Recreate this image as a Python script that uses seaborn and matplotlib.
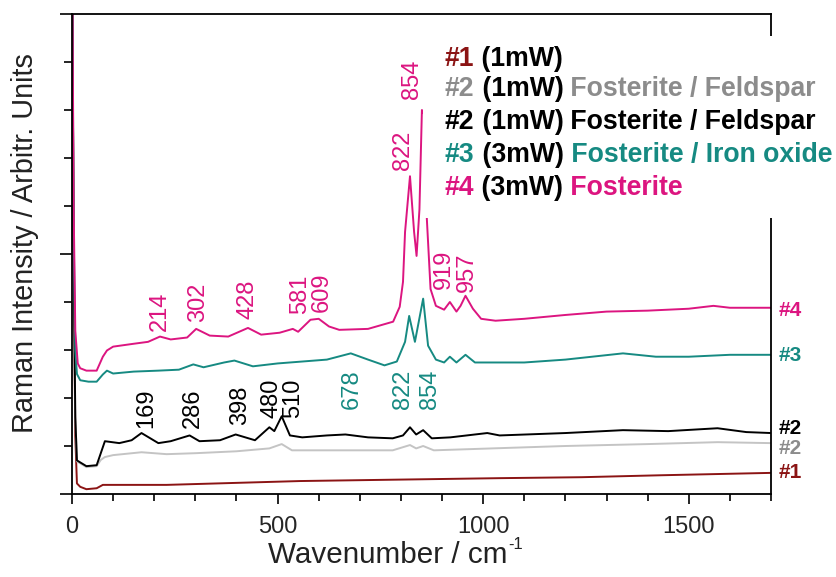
import matplotlib
matplotlib.use("Agg")
import matplotlib.pyplot as plt
from matplotlib.patches import Rectangle
from matplotlib.ticker import MultipleLocator
import seaborn as sns

x1 = [0, 4, 8, 12, 20, 35, 60, 75, 230, 555, 1040, 1240, 1430, 1700]
y1 = [12, 5.0, 1.2, 0.22, 0.15, 0.10, 0.12, 0.19, 0.19, 0.27, 0.33, 0.35, 0.39, 0.44]

xg = [0, 4, 8, 12, 35, 60, 70, 80, 100, 169, 230, 300, 400, 480, 510, 535, 650,
      780, 822, 837, 854, 880, 1200, 1400, 1570, 1700]
yg = [12, 5.0, 1.6, 0.68, 0.56, 0.58, 0.71, 0.77, 0.81, 0.87, 0.83, 0.85, 0.89, 0.95, 1.04, 0.91, 0.91,
      0.91, 1.02, 0.95, 1.00, 0.91, 1.00, 1.04, 1.08, 1.06]

x2 = [0, 4, 8, 12, 35, 60, 70, 80, 115, 145, 169, 210, 240, 286, 310, 360, 398, 445, 480, 492,
      510, 530, 560, 620, 665, 720, 780, 805, 822, 837, 854, 875, 920, 1010, 1040, 1200, 1340,
      1450, 1570, 1640, 1700]
y2 = [12, 5.0, 1.6, 0.70, 0.58, 0.60, 0.85, 1.10, 1.06, 1.12, 1.27, 1.06, 1.10, 1.22, 1.10, 1.12, 1.24, 1.12, 1.39, 1.31,
      1.62, 1.22, 1.18, 1.22, 1.24, 1.18, 1.16, 1.22, 1.39, 1.24, 1.33, 1.16, 1.18, 1.27, 1.22, 1.27, 1.33,
      1.31, 1.37, 1.29, 1.27]

x3 = [0, 4, 8, 12, 20, 40, 60, 75, 85, 100, 150, 210, 260, 295, 320, 370, 395, 440, 500, 560,
      620, 678, 720, 760, 790, 810, 820, 834, 854, 866, 885, 905, 919, 935, 957, 980, 1030,
      1100, 1200, 1340, 1420, 1500, 1600, 1700]
y3 = [12, 5.5, 3.0, 2.50, 2.37, 2.34, 2.34, 2.49, 2.57, 2.51, 2.55, 2.57, 2.59, 2.70, 2.64, 2.74, 2.78, 2.66, 2.72, 2.76,
      2.80, 2.93, 2.80, 2.68, 2.76, 3.17, 3.71, 3.17, 4.07, 3.09, 2.80, 2.74, 2.86, 2.74, 2.90, 2.74, 2.74,
      2.74, 2.80, 2.93, 2.86, 2.86, 2.90, 2.90]

x4 = [0, 4, 8, 14, 20, 35, 60, 75, 85, 100, 150, 185, 214, 240, 280, 302, 335, 380, 428, 460,
      505, 537, 550, 580, 600, 625, 650, 720, 781, 797, 805, 810, 822, 832, 838, 845, 851,
      857, 863, 872, 885, 905, 919, 935, 945, 957, 975, 995, 1030, 1100, 1200, 1300, 1400,
      1500, 1560, 1600, 1700]
y4 = [12, 6.0, 3.4, 2.72, 2.62, 2.57, 2.57, 2.86, 2.99, 3.07, 3.13, 3.17, 3.28, 3.22, 3.26, 3.44, 3.30, 3.28, 3.46, 3.32,
      3.36, 3.44, 3.38, 3.63, 3.65, 3.49, 3.42, 3.44, 3.59, 3.90, 4.42, 5.46, 6.62, 5.46, 4.96, 5.93, 8.0,
      7.9, 5.73, 4.27, 3.92, 3.84, 4.00, 3.80, 3.92, 4.13, 3.86, 3.65, 3.61, 3.65, 3.73, 3.80, 3.82,
      3.86, 3.92, 3.88, 3.88]

# peak labels
pk4_text = ["214", "302", "428", "581", "609", "822", "854", "919", "957"]
pk2_text = ["169", "286", "398", "480", "510"]
pk3_text = ["678", "822", "854"]

end_labels = ["#4", "#3", "#2", "#2", "#1"]

legend_rows = [
    [("#1", "red"), (" (1mW)", "k")],
    [("#2", "grey"), (" (1mW)", "k"), (" Fosterite / Feldspar", "grey")],
    [("#2", "k"), (" (1mW)", "k"), (" Fosterite / Feldspar", "k")],
    [("#3", "teal"), (" (3mW)", "k"), (" Fosterite / Iron oxide", "teal")],
    [("#4", "mag"), (" (3mW)", "k"), (" Fosterite", "mag")],
]

C = {"red": "#8b1414", "grey": "#8c8c8c", "greyline": "#c4c4c4", "k": "#000000",
     "teal": "#168a82", "mag": "#dc1580"}

sns.set_style("ticks")
plt.rcParams["font.family"] = ["Liberation Sans", "DejaVu Sans"]

W, H = 837, 577
fig = plt.figure(figsize=(W / 100, H / 100), dpi=100)
ax = fig.add_axes([72 / W, 83 / H, 699 / W, 480 / H])

lw = 1.4
sns.lineplot(x=x1, y=y1, color=C["red"], lw=lw, ax=ax, estimator=None, sort=False)
sns.lineplot(x=xg, y=yg, color=C["greyline"], lw=lw, ax=ax, estimator=None, sort=False)
sns.lineplot(x=x2, y=y2, color=C["k"], lw=lw, ax=ax, estimator=None, sort=False)
sns.lineplot(x=x3, y=y3, color=C["teal"], lw=lw, ax=ax, estimator=None, sort=False)
sns.lineplot(x=x4, y=y4, color=C["mag"], lw=lw, ax=ax, estimator=None, sort=False)

ax.set_xlim(0, 1700)
ax.set_ylim(0, 10)
ax.xaxis.set_major_locator(MultipleLocator(500))
ax.xaxis.set_minor_locator(MultipleLocator(100))
ax.yaxis.set_major_locator(MultipleLocator(5))
ax.yaxis.set_minor_locator(MultipleLocator(1))
ax.set_yticklabels([])
ax.tick_params(axis="both", which="both", direction="out", width=1.2, color="k")
ax.tick_params(axis="x", which="major", length=7, labelsize=17, pad=9)
ax.tick_params(axis="x", which="minor", length=5)
ax.tick_params(axis="y", which="major", length=9)
ax.tick_params(axis="y", which="minor", length=6)
for s in ax.spines.values():
    s.set_visible(True)
    s.set_linewidth(1.3)
    s.set_color("k")
ax.set_xlabel("")
ax.set_ylabel("")

# peak annotations (rotated)
pk4_pos = [(214, 3.40), (306, 3.59), (426, 3.65), (554, 3.76), (608, 3.80),
           (805, 6.76), (827, 8.22), (905, 4.27), (961, 4.21)]
pk2_pos = [(180, 1.37), (294, 1.37), (409, 1.43), (484, 1.58), (537, 1.58)]
pk3_pos = [(681, 1.78), (805, 1.78), (871, 1.78)]
for txts, pos, col in [(pk4_text, pk4_pos, C["mag"]), (pk2_text, pk2_pos, C["k"]),
                       (pk3_text, pk3_pos, C["teal"])]:
    for t, (px, py) in zip(txts, pos):
        ax.text(px, py, t, rotation=90, ha="center", va="bottom", fontsize=17,
                color=col, zorder=4)

# labels at the right end of each trace
end_y = [3.82, 2.88, 1.37, 0.95, 0.44]
end_c = [C["mag"], C["teal"], C["k"], C["grey"], C["red"]]
for t, yy, cc in zip(end_labels, end_y, end_c):
    ax.text(1.011, yy, t, transform=ax.get_yaxis_transform(), ha="left", va="center",
            fontsize=15, fontweight="bold", color=cc, clip_on=False)

# axis titles
fig.text(25 / W, 1 - 243 / H, "Raman Intensity / Arbitr. Units", rotation=90,
         ha="center", va="center", fontsize=20.8, color="#222222")

# legend block with white background
fig.add_artist(Rectangle((423 / W, 1 - 218 / H), 414 / W, 182 / H,
                         transform=fig.transFigure, fc="white", ec="none", zorder=5))
fig.canvas.draw()
renderer = fig.canvas.get_renderer()

xl = fig.text(268 / W, 1 - 563 / H, "Wavenumber / cm", ha="left", va="baseline",
              fontsize=21.3, color="#222222")
bb = xl.get_window_extent(renderer)
fig.text(bb.x1 / W + 1 / W, 1 - 549 / H, "-1", ha="left", va="baseline",
         fontsize=12, color="#222222")

base_y = [66, 96, 129, 162, 195]
for row, by in zip(legend_rows, base_y):
    x = 445 / W
    for s, cname in row:
        t = fig.text(x, 1 - by / H, s, ha="left", va="baseline", fontsize=19.2,
                     fontweight="bold", color=C[cname], zorder=6)
        bb = t.get_window_extent(renderer)
        x = bb.x1 / W

fig.savefig("out.png", dpi=100)
